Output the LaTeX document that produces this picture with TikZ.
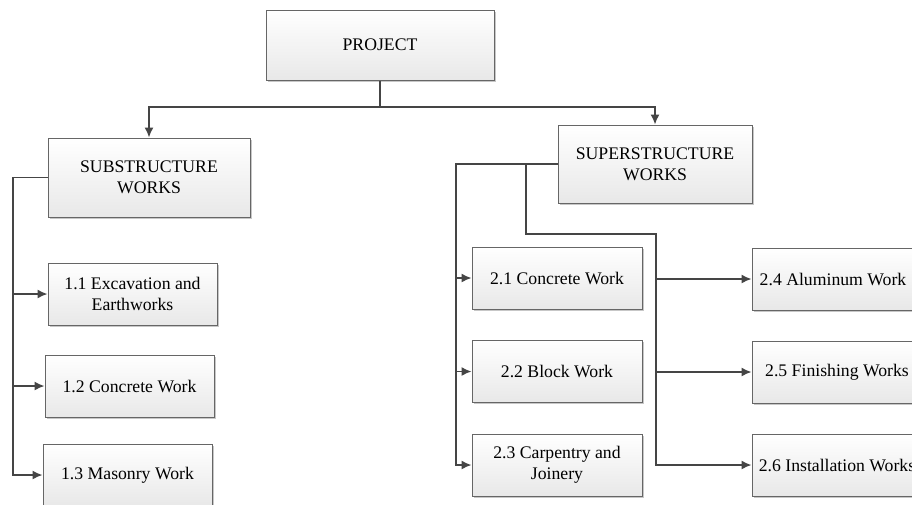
\documentclass[tikz,border=0pt]{standalone}
\usepackage{fontspec}
\setmainfont{Liberation Serif}
\usetikzlibrary{arrows.meta,shadows}
\definecolor{linec}{HTML}{454545}
\definecolor{boxline}{HTML}{666666}
\definecolor{boxbot}{HTML}{E8E8E8}
\tikzset{
  wbox/.style={draw=boxline, line width=1pt, top color=white, bottom color=boxbot,
    drop shadow={shadow xshift=1.6pt, shadow yshift=-1.6pt, fill=black!22, opacity=1},
    align=center, inner sep=0pt, font=\fontsize{17.7}{20.7}\selectfont},
  conn/.style={draw=linec, line width=1.5pt},
  arr/.style={conn, -{Latex[length=10pt,width=9pt]}}
}
\begin{document}
\begin{tikzpicture}[x=1pt,y=-1pt]
\useasboundingbox (0,0) rectangle (912,504);
\clip (0,0) rectangle (912,504);
\fill[white] (0,0) rectangle (912,504);
% nodes
\node[wbox, minimum width=228pt, minimum height=70pt] (proj) at (380,45) {PROJECT};
\node[wbox, minimum width=202pt, minimum height=79pt] (sub) at (149,177.5) {SUBSTRUCTURE\\WORKS};
\node[wbox, minimum width=194pt, minimum height=78pt] (sup) at (655,164) {SUPERSTRUCTURE\\WORKS};
\node[wbox, minimum width=169pt, minimum height=62pt] (s11) at (132.5,294) {1.1 Excavation and\\Earthworks};
\node[wbox, minimum width=169pt, minimum height=62pt] (s12) at (129.5,386) {1.2 Concrete Work};
\node[wbox, minimum width=169pt, minimum height=62pt] (s13) at (127.5,475) {1.3 Masonry Work};
\node[wbox, minimum width=170pt, minimum height=62pt] (s21) at (557,278) {2.1 Concrete Work};
\node[wbox, minimum width=170pt, minimum height=62pt] (s22) at (557,371.5) {2.2 Block Work};
\node[wbox, minimum width=170pt, minimum height=62pt] (s23) at (557,465) {2.3 Carpentry and\\Joinery};
\node[wbox, minimum width=170pt, minimum height=62pt] (s24) at (837,279) {\hspace*{-8pt}2.4 Aluminum Work};
\node[wbox, minimum width=170pt, minimum height=62pt] (s25) at (837,372) {2.5 Finishing Works};
\node[wbox, minimum width=170pt, minimum height=62pt] (s26) at (837,465) {2.6 Installation Works};
% top connectors
\coordinate (pj) at (380,107);
\draw[arr] (proj.south) -- (pj) -| (sub.north);
\draw[arr] (pj) -| (sup.north);
% substructure
\coordinate (sl) at (13,177.5);
\draw[arr] (sub.west) -- (sl) |- (s13.west);
\draw[arr] (sl |- s11.west) -- (s11.west);
\draw[arr] (sl |- s12.west) -- (s12.west);
% superstructure left
\coordinate (pl) at (456,164);
\draw[arr] (sup.west) -- (pl) |- (s23.west);
\draw[arr] (pl |- s21.west) -- (s21.west);
\draw[arr] (pl |- s22.west) -- (s22.west);
% superstructure branch
\coordinate (b1) at (526,164);
\coordinate (b2) at (656,234);
\draw[arr] (b1) |- (b2) |- (s26.west);
\draw[arr] (b2 |- s24.west) -- (s24.west);
\draw[arr] (b2 |- s25.west) -- (s25.west);
\end{tikzpicture}
\end{document}
